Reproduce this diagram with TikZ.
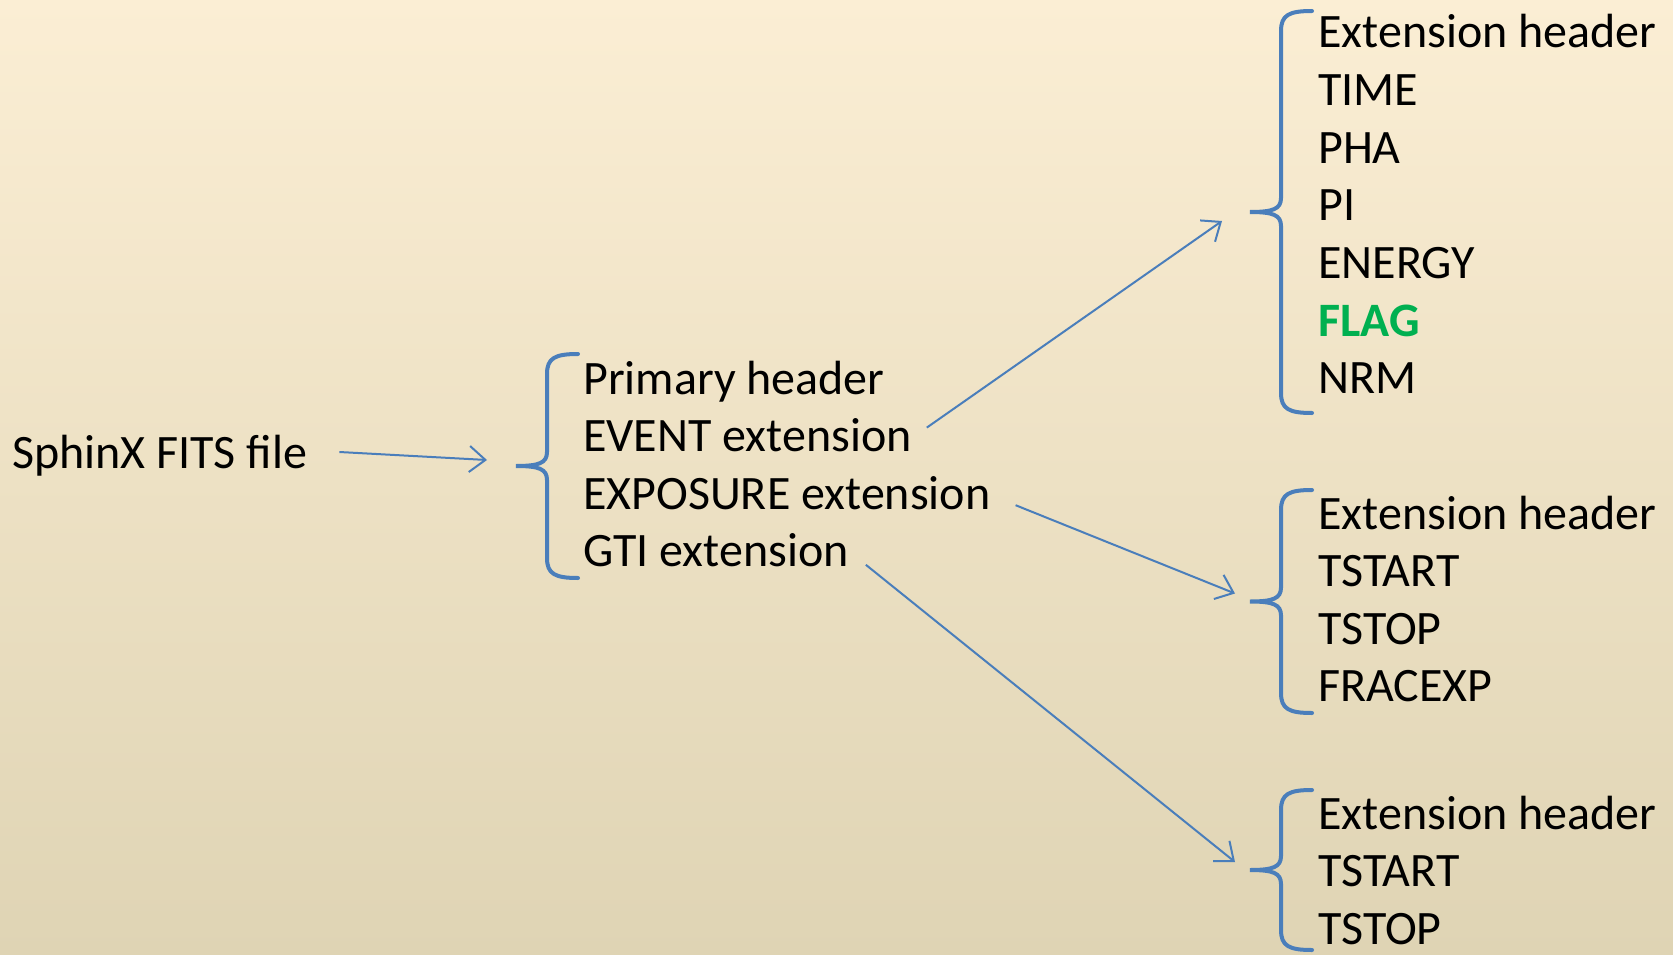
\documentclass[tikz,border=0pt]{standalone}
\usepackage{fontspec}
\setmainfont{Carlito}
\usetikzlibrary{arrows.meta,calc}
\definecolor{bracecol}{HTML}{4A7EBB}
\definecolor{flaggreen}{HTML}{00B050}
\definecolor{parchtop}{HTML}{FBEED4}
\definecolor{parchmid}{HTML}{F2EBD6}
\definecolor{parchbot}{HTML}{DFD4B4}
\tikzset{
  item/.style={anchor=base west,inner sep=0pt,text height=34pt,text depth=10pt,font=\fontsize{48}{57.6}\selectfont},
  brace/.style={draw=bracecol,line width=4pt,line cap=round},
  link/.style={draw=bracecol,line width=2pt,-{Straight Barb[length=16pt,width=26pt]}}
}
% brace: name of tip, tip x, top y, bottom y
\newcommand\fitsbrace[4]{%
  \pgfmathsetmacro\brx{#2+31}\pgfmathsetmacro\bre{#2+62}\pgfmathsetmacro\brm{(#3+#4)/2}%
  \draw[brace] (\bre,#3) .. controls (\brx+8,#3) and (\brx,#3+4) .. (\brx,#3+20) -- (\brx,\brm-14) .. controls (\brx,\brm-3) and (\brx-8,\brm) .. (#2,\brm) .. controls (\brx-8,\brm) and (\brx,\brm+3) .. (\brx,\brm+14) -- (\brx,#4-20) .. controls (\brx,#4-4) and (\brx+8,#4) .. (\bre,#4);
  \coordinate (#1) at (#2,\brm);}
\begin{document}
\begin{tikzpicture}[x=1pt,y=-1pt]
\useasboundingbox (0,0) rectangle (1673,955);
\shade[top color=parchtop,middle color=parchmid,bottom color=parchbot] (0,0) rectangle (1673,955);
% file and its parts
\node[item] (fits) at (12,468) {SphinX FITS file};
\node[item] (prim) at (583,394) {Primary header};
\node[item] (event) at (583,451.6) {EVENT extension};
\node[item] (expo) at (583,509.2) {EXPOSURE extension};
\node[item] (gti) at (583,566.8) {GTI extension};
\fitsbrace{tipA}{516}{354}{578}
% extension columns
\foreach \t [count=\i] in {Extension header,TIME,PHA,PI,ENERGY,{\textcolor{flaggreen}{\bfseries FLAG}},NRM}
  \node[item] (ev\i) at (1318,{48+(\i-1)*57.6}) {\t};
\fitsbrace{tipB}{1250}{11}{413}
\foreach \t [count=\i] in {Extension header,TSTART,TSTOP,FRACEXP}
  \node[item] (ex\i) at (1318,{529+(\i-1)*57.6}) {\t};
\fitsbrace{tipC}{1250}{490}{713}
\foreach \t [count=\i] in {Extension header,TSTART,TSTOP}
  \node[item] (gt\i) at (1318,{829+(\i-1)*57.6}) {\t};
\fitsbrace{tipD}{1250}{790}{950}
% arrows
\draw[link] ($(fits.east)+(32,-4)$) -- ($(tipA)+(-29,-6)$);
\draw[link] ($(event.east)+(15,-12)$) -- ($(tipB)+(-28,9)$);
\draw[link] ($(expo.east)+(25,8)$) -- ($(tipC)+(-15,-8)$);
\draw[link] ($(gti.east)+(17,10)$) -- ($(tipD)+(-15,-8)$);
\end{tikzpicture}
\end{document}
